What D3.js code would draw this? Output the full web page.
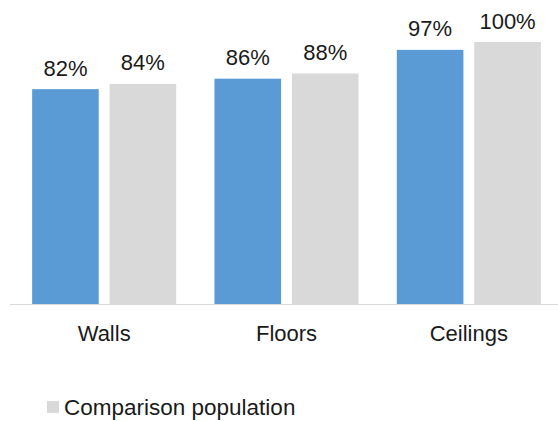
<!DOCTYPE html>
<html>
<head>
<meta charset="utf-8">
<script src="https://cdn.jsdelivr.net/npm/d3@7"></script>
<style>
  html, body { margin: 0; padding: 0; background: #fff; }
  svg { display: block; }
  text { font-family: "Liberation Sans", Arial, Helvetica, sans-serif; fill: #1a1a1a; }
</style>
</head>
<body>
<svg id="chart" width="558" height="421"></svg>
<script>
const categories = ["Walls", "Floors", "Ceilings"];
const seriesNames = ["Your population", "Comparison population"];
const yourValues = [82, 86, 97];
const comparisonValues = [84, 88, 100];
const legendLabels = ["Comparison population"];

const colors = { "Your population": "#5b9bd5", "Comparison population": "#d9d9d9" };

const svg = d3.select("#chart");
const baselineY = 304, plotTopY = 42;

const x0 = d3.scaleBand().domain(categories).range([13, 560]).paddingInner(0.21).paddingOuter(0.105);
const x1 = d3.scaleBand().domain(seriesNames).range([0, x0.bandwidth()]).paddingInner(0.14).paddingOuter(0);
const y = d3.scaleLinear().domain([0, 100]).range([baselineY, plotTopY]);

const data = categories.map((c, i) => ({
  cat: c,
  vals: [
    { s: seriesNames[0], v: yourValues[i] },
    { s: seriesNames[1], v: comparisonValues[i] }
  ]
}));

const groups = svg.selectAll("g.grp").data(data).enter().append("g")
  .attr("class", "grp")
  .attr("transform", d => `translate(${x0(d.cat)},0)`);

groups.selectAll("rect").data(d => d.vals).enter().append("rect")
  .attr("x", d => x1(d.s))
  .attr("y", d => y(d.v))
  .attr("width", x1.bandwidth())
  .attr("height", d => baselineY - y(d.v))
  .attr("fill", d => colors[d.s]);

groups.selectAll("text.val").data(d => d.vals).enter().append("text")
  .attr("class", "val")
  .attr("x", d => x1(d.s) + x1.bandwidth() / 2)
  .attr("y", d => y(d.v) - 13.5)
  .attr("text-anchor", "middle")
  .style("font-size", "22px")
  .text(d => d.v + "%");

// baseline axis
const xAxis = d3.axisBottom(x0).tickSize(0).tickPadding(20);
const ax = svg.append("g").attr("transform", `translate(0,${baselineY})`).call(xAxis);
ax.select(".domain").attr("d", `M10,0.5H558`).attr("stroke", "#d9d9d9").attr("stroke-width", 1.2);
ax.selectAll(".tick text")
  .attr("dy", "0.71em")
  .attr("y", 21)
  .style("font-size", "22px")
  .style("font-family", '"Liberation Sans", Arial, Helvetica, sans-serif')
  .attr("fill", "#1a1a1a");

// legend
const lg = svg.append("g").attr("transform", "translate(47,401)");
lg.append("rect").attr("width", 12).attr("height", 12).attr("fill", colors["Comparison population"]);
lg.append("text").attr("x", 17).attr("y", 14).style("font-size", "22.5px").text(legendLabels[0]);
</script>
</body>
</html>
